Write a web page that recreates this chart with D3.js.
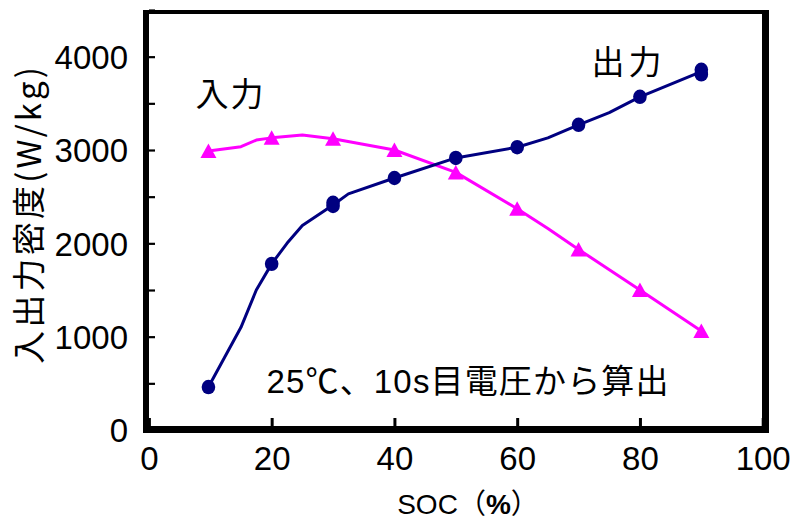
<!DOCTYPE html>
<html>
<head>
<meta charset="utf-8">
<script src="https://cdn.jsdelivr.net/npm/d3@7"></script>
<style>
  html, body { margin: 0; padding: 0; background: #fff; }
  svg { display: block; }
</style>
</head>
<body>
<svg id="chart" width="801" height="522"></svg>
<script>
// ---- data ----
const outputMarkerSOC = [9.7, 20, 30, 30, 40, 50, 60, 70, 80, 90, 90];
const outputMarkerVal = [460, 1780, 2400, 2435, 2700, 2915, 3030, 3270, 3570, 3810, 3860];
const outputLineSOC   = [9.7, 15, 17.5, 20, 22.5, 25, 30, 32.5, 40, 50, 60, 65, 70, 75, 80, 90];
const outputLineVal   = [460, 1100, 1500, 1780, 2000, 2190, 2410, 2530, 2700, 2915, 3030, 3130, 3270, 3400, 3570, 3840];

const inputMarkerSOC = [9.7, 20, 30, 40, 50, 60, 70, 80, 90];
const inputMarkerVal = [2990, 3130, 3120, 3000, 2760, 2370, 1935, 1500, 1060];
const inputLineSOC   = [9.7, 15, 17.5, 20, 25, 30, 40, 50, 60, 65, 70, 80, 90];
const inputLineVal   = [2990, 3036, 3107, 3130, 3160, 3120, 3000, 2760, 2370, 2160, 1935, 1500, 1060];

const xTickValues = [0, 20, 40, 60, 80, 100];
const yTickValues = [0, 500, 1000, 1500, 2000, 2500, 3000, 3500, 4000, 4500];
const yLabelValues = [0, 1000, 2000, 3000, 4000];

const xTitleParts = ["SOC", "（", "%", "）"];
const yTitle = "入出力密度(W/kg)";
const inputLabel = "入力";
const outputLabel = "出力";
const noteLabel = "25℃、10s目電圧から算出";

// ---- layout ----
const svg = d3.select("#chart");
const x = d3.scaleLinear().domain([0, 100]).range([148.9, 762.7]);
const y = d3.scaleLinear().domain([0, 4500]).range([430, 10]);

const navy = "#000080";
const magenta = "#FF00FF";
const tickFont = "'Liberation Sans', Arial, sans-serif";
const cjkFont = "'Noto Sans CJK JP', 'Liberation Sans', sans-serif";
const mixFont = "'Liberation Sans', 'Noto Sans CJK JP', sans-serif";

// axes (ticks inward)
const yAxis = d3.axisLeft(y).tickValues(yTickValues).tickSizeInner(-6).tickSizeOuter(0)
  .tickPadding(21).tickFormat(d => yLabelValues.includes(d) ? d : "");
const gy = svg.append("g").attr("transform", "translate(149,0)").call(yAxis);
gy.select(".domain").remove();
gy.selectAll(".tick line").attr("stroke", "#000").attr("stroke-width", 2.2);
gy.selectAll(".tick text").attr("font-family", tickFont).attr("font-size", 33)
  .attr("fill", "#000").attr("dy", "0.36em");

const xAxis = d3.axisBottom(x).tickValues(xTickValues).tickSizeInner(-8).tickSizeOuter(0)
  .tickPadding(21).tickFormat(d => d);
const gx = svg.append("g").attr("transform", "translate(0,426)").call(xAxis);
gx.select(".domain").remove();
gx.selectAll(".tick line").attr("stroke", "#000").attr("stroke-width", 3);
gx.selectAll(".tick text").attr("font-family", tickFont).attr("font-size", 33)
  .attr("fill", "#000").attr("dy", "0.69em");

// frame
const frame = svg.append("g").attr("stroke", "#000");
frame.append("line").attr("x1", 146).attr("x2", 146).attr("y1", 10).attr("y2", 433).attr("stroke-width", 6);
frame.append("line").attr("x1", 765.5).attr("x2", 765.5).attr("y1", 10).attr("y2", 433).attr("stroke-width", 7);
frame.append("line").attr("x1", 143).attr("x2", 769).attr("y1", 12).attr("y2", 12).attr("stroke-width", 4);
frame.append("line").attr("x1", 143).attr("x2", 769).attr("y1", 429.5).attr("y2", 429.5).attr("stroke-width", 7);

// lines
const line = d3.line().x(d => x(d[0])).y(d => y(d[1]));
const outLine = outputLineSOC.map((s, i) => [s, outputLineVal[i]]);
const inLine = inputLineSOC.map((s, i) => [s, inputLineVal[i]]);

svg.append("path").datum(inLine).attr("d", line)
  .attr("fill", "none").attr("stroke", magenta).attr("stroke-width", 3).attr("stroke-linejoin", "round");
svg.append("path").datum(outLine).attr("d", line)
  .attr("fill", "none").attr("stroke", navy).attr("stroke-width", 3).attr("stroke-linejoin", "round");

// markers
const inPts = inputMarkerSOC.map((s, i) => [s, inputMarkerVal[i]]);
const outPts = outputMarkerSOC.map((s, i) => [s, outputMarkerVal[i]]);

svg.append("g").selectAll("path").data(inPts).join("path")
  .attr("transform", d => `translate(${x(d[0])},${y(d[1])})`)
  .attr("d", "M0,-7.5 L8,7 L-8,7 Z")
  .attr("fill", magenta);

svg.append("g").selectAll("ellipse").data(outPts).join("ellipse")
  .attr("cx", d => x(d[0])).attr("cy", d => y(d[1]))
  .attr("rx", 6.8).attr("ry", 7.2)
  .attr("fill", navy);

// text labels
svg.append("text").text(inputLabel)
  .attr("x", 229.5).attr("y", 92).attr("text-anchor", "middle").attr("dominant-baseline", "central")
  .attr("font-family", cjkFont).attr("font-size", 33).attr("fill", "#000")
  .attr("textLength", 68).attr("lengthAdjust", "spacing");
svg.append("text").text(outputLabel)
  .attr("x", 626.5).attr("y", 59.5).attr("text-anchor", "middle").attr("dominant-baseline", "central")
  .attr("font-family", cjkFont).attr("font-size", 33).attr("fill", "#000")
  .attr("textLength", 70).attr("lengthAdjust", "spacing");
svg.append("text").text(noteLabel)
  .attr("x", 467.5).attr("y", 381).attr("text-anchor", "middle").attr("dominant-baseline", "central")
  .attr("font-family", mixFont).attr("font-size", 33).attr("fill", "#000")
  .attr("textLength", 402).attr("lengthAdjust", "spacing");

const xt = svg.append("text")
  .attr("x", 468).attr("y", 514).attr("text-anchor", "middle")
  .attr("font-family", tickFont).attr("font-size", 28).attr("fill", "#000");
xt.selectAll("tspan").data(xTitleParts).join("tspan")
  .attr("font-family", (d, i) => (i === 1 || i === 3) ? cjkFont : tickFont)
  .attr("font-weight", (d, i) => i === 2 ? "bold" : "normal")
  .text(d => d);

svg.append("text").text(yTitle)
  .attr("transform", "translate(27,215.5) rotate(-90)")
  .attr("text-anchor", "middle").attr("dominant-baseline", "central")
  .attr("font-family", cjkFont).attr("font-size", 33).attr("fill", "#000")
  .attr("textLength", 297).attr("lengthAdjust", "spacing");
</script>
</body>
</html>
